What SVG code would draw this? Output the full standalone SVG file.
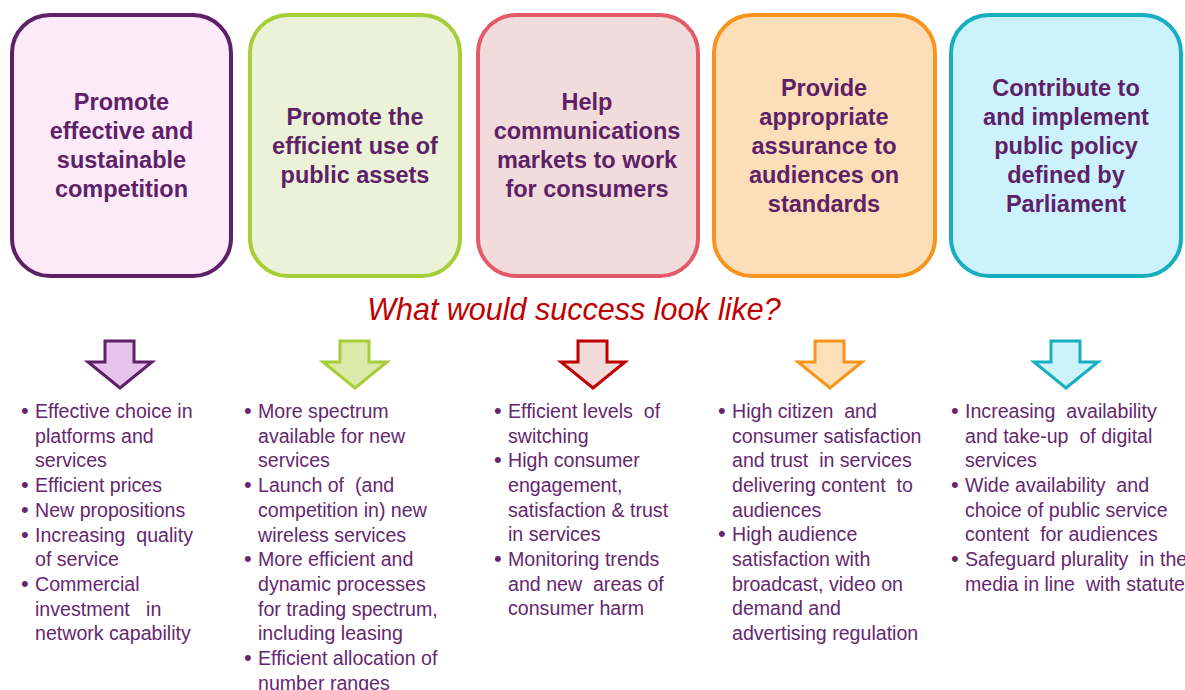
<svg xmlns="http://www.w3.org/2000/svg" width="1185" height="690" viewBox="0 0 1185 690">
<style>
.box{stroke-width:4}
.ttl{font-family:"Liberation Sans",Arial,sans-serif;font-weight:bold;font-size:23.5px;fill:#5E2168;text-anchor:middle}
.body{font-family:"Liberation Sans",Arial,sans-serif;font-size:19.6px;fill:#66276E;white-space:pre}
.bul{font-family:"Liberation Sans",Arial,sans-serif;font-size:22px;fill:#66276E}
.arr{stroke-width:3;stroke-linejoin:miter}
.hd{font-family:"Liberation Sans",Arial,sans-serif;font-style:italic;font-size:30.5px;fill:#C00000;text-anchor:middle}
</style>
<rect width="1185" height="690" fill="#FFFFFF"/>

<g id="box1">
<rect class="box" x="12" y="15" width="219" height="261" rx="38" fill="#FCEAF9" stroke="#5E2168"/>
<text class="ttl" x="121.5" y="110">Promote</text>
<text class="ttl" x="121.5" y="139">effective and</text>
<text class="ttl" x="121.5" y="168">sustainable</text>
<text class="ttl" x="121.5" y="197">competition</text>
</g>
<g id="box2">
<rect class="box" x="250" y="15" width="210" height="261" rx="38" fill="#EBF2D8" stroke="#A6CE39"/>
<text class="ttl" x="355" y="125">Promote the</text>
<text class="ttl" x="355" y="154">efficient use of</text>
<text class="ttl" x="355" y="183">public assets</text>
</g>
<g id="box3">
<rect class="box" x="478" y="15" width="220" height="261" rx="38" fill="#F2DCDB" stroke="#E35B6B"/>
<text class="ttl" x="587" y="110">Help</text>
<text class="ttl" x="587" y="139">communications</text>
<text class="ttl" x="587" y="168">markets to work</text>
<text class="ttl" x="587" y="197">for consumers</text>
</g>
<g id="box4">
<rect class="box" x="714" y="15" width="221" height="261" rx="38" fill="#FCDEB8" stroke="#F7941D"/>
<text class="ttl" x="824" y="96">Provide</text>
<text class="ttl" x="824" y="125">appropriate</text>
<text class="ttl" x="824" y="154">assurance to</text>
<text class="ttl" x="824" y="183">audiences on</text>
<text class="ttl" x="824" y="212">standards</text>
</g>
<g id="box5">
<rect class="box" x="951" y="15" width="230" height="261" rx="38" fill="#CCF2FD" stroke="#17AFC0"/>
<text class="ttl" x="1066" y="96">Contribute to</text>
<text class="ttl" x="1066" y="125">and implement</text>
<text class="ttl" x="1066" y="154">public policy</text>
<text class="ttl" x="1066" y="183">defined by</text>
<text class="ttl" x="1066" y="212">Parliament</text>
</g>

<text id="heading" class="hd" x="574" y="320">What would success look like?</text>

<g id="connectors">
<path class="arr" d="M105,341 H134 V362 H152 L120,388 L88,362 H105 Z" fill="#E6C3EA" stroke="#5E2168"/>
<path class="arr" d="M340,341 H369 V362 H387 L355,388 L323,362 H340 Z" fill="#D9EAA9" stroke="#A6CE39"/>
<path class="arr" d="M578,341 H607 V362 H625 L593,388 L561,362 H578 Z" fill="#F2DCDB" stroke="#C00000"/>
<path class="arr" d="M815,341 H844 V362 H862 L830,388 L798,362 H815 Z" fill="#FDDFBA" stroke="#F7941D"/>
<path class="arr" d="M1051,341 H1080 V362 H1098 L1066,388 L1034,362 H1051 Z" fill="#CDF3FD" stroke="#17AFC0"/>
</g>

<g id="list1">
<text class="bul" x="21" y="418">•</text>
<text class="bul" x="21" y="492">•</text>
<text class="bul" x="21" y="517">•</text>
<text class="bul" x="21" y="542">•</text>
<text class="bul" x="21" y="591">•</text>
<text class="body" x="35" y="418">Effective choice in</text>
<text class="body" x="35" y="443">platforms and</text>
<text class="body" x="35" y="467">services</text>
<text class="body" x="35" y="492">Efficient prices</text>
<text class="body" x="35" y="517">New propositions</text>
<text class="body" x="35" y="542">Increasing  quality</text>
<text class="body" x="35" y="566">of service</text>
<text class="body" x="35" y="591">Commercial</text>
<text class="body" x="35" y="616">investment   in</text>
<text class="body" x="35" y="640">network capability</text>
</g>
<g id="list2">
<text class="bul" x="244" y="418">•</text>
<text class="bul" x="244" y="492">•</text>
<text class="bul" x="244" y="566">•</text>
<text class="bul" x="244" y="665">•</text>
<text class="body" x="258" y="418">More spectrum</text>
<text class="body" x="258" y="443">available for new</text>
<text class="body" x="258" y="467">services</text>
<text class="body" x="258" y="492">Launch of  (and</text>
<text class="body" x="258" y="517">competition in) new</text>
<text class="body" x="258" y="542">wireless services</text>
<text class="body" x="258" y="566">More efficient and</text>
<text class="body" x="258" y="591">dynamic processes</text>
<text class="body" x="258" y="616">for trading spectrum,</text>
<text class="body" x="258" y="640">including leasing</text>
<text class="body" x="258" y="665">Efficient allocation of</text>
<text class="body" x="258" y="690">number ranges</text>
</g>
<g id="list3">
<text class="bul" x="494" y="418">•</text>
<text class="bul" x="494" y="467">•</text>
<text class="bul" x="494" y="566">•</text>
<text class="body" x="508" y="418">Efficient levels  of</text>
<text class="body" x="508" y="443">switching</text>
<text class="body" x="508" y="467">High consumer</text>
<text class="body" x="508" y="492">engagement,</text>
<text class="body" x="508" y="517">satisfaction &amp; trust</text>
<text class="body" x="508" y="541">in services</text>
<text class="body" x="508" y="566">Monitoring trends</text>
<text class="body" x="508" y="591">and new  areas of</text>
<text class="body" x="508" y="615">consumer harm</text>
</g>
<g id="list4">
<text class="bul" x="718" y="418">•</text>
<text class="bul" x="718" y="541">•</text>
<text class="body" x="732" y="418">High citizen  and</text>
<text class="body" x="732" y="443">consumer satisfaction</text>
<text class="body" x="732" y="467">and trust  in services</text>
<text class="body" x="732" y="492">delivering content  to</text>
<text class="body" x="732" y="517">audiences</text>
<text class="body" x="732" y="541">High audience</text>
<text class="body" x="732" y="566">satisfaction with</text>
<text class="body" x="732" y="591">broadcast, video on</text>
<text class="body" x="732" y="615">demand and</text>
<text class="body" x="732" y="640">advertising regulation</text>
</g>
<g id="list5">
<text class="bul" x="951" y="418">•</text>
<text class="bul" x="951" y="492">•</text>
<text class="bul" x="951" y="566">•</text>
<text class="body" x="965" y="418">Increasing  availability</text>
<text class="body" x="965" y="443">and take-up  of digital</text>
<text class="body" x="965" y="467">services</text>
<text class="body" x="965" y="492">Wide availability  and</text>
<text class="body" x="965" y="517">choice of public service</text>
<text class="body" x="965" y="541">content  for audiences</text>
<text class="body" x="965" y="566">Safeguard plurality  in the</text>
<text class="body" x="965" y="591">media in line  with statute</text>
</g>
</svg>
